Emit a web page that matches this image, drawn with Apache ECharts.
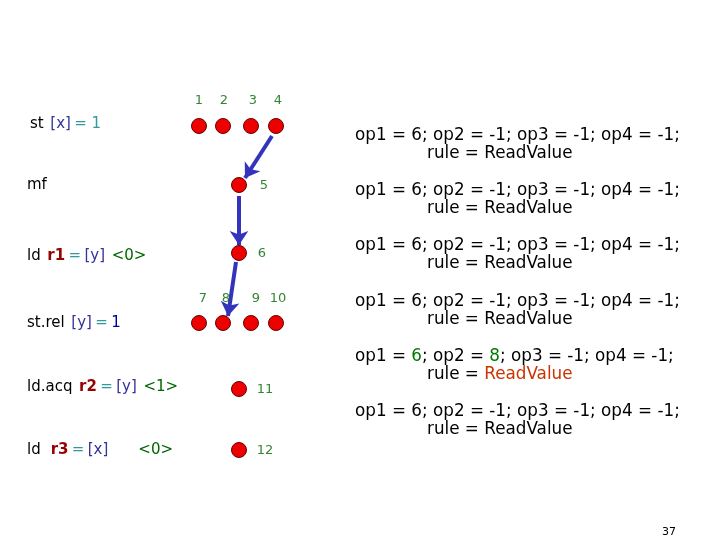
<!DOCTYPE html>
<html><head><meta charset="utf-8">
<script src="https://cdn.jsdelivr.net/npm/echarts@6/dist/echarts.min.js"></script>
<style>html,body{margin:0;background:#fff}#main{width:720px;height:540px}</style>
</head><body><div id="main"></div>
<script>
// node centres
var nodeX = [199, 223, 251, 276, 239, 239, 199, 223, 251, 276, 239, 239];
var nodeY = [126, 126, 126, 126, 185, 253, 323, 323, 323, 323, 389, 450];
var nodeNames = ['1','2','3','4','5','6','7','8','9','10','11','12'];
// label positions
var labelX = [199, 224, 253, 278, 264, 262, 203, 226, 256, 278, 265, 265];
var labelY = [101, 101, 101, 101, 186, 254, 299, 299, 299, 299, 390, 451];
// arrows: [x1,y1,x2,y2]
var arrows = [[272,136,245,178],[239,196,239,245],[236,262,228,316]];
var opLine = 'op1 = 6; op2 = -1; op3 = -1; op4 = -1;';
var opRowsY = [138, 193, 248, 304, 359, 414];

var myChart = echarts.init(document.getElementById('main'));
var ff = '"DejaVu Sans", sans-serif';

var nodes = [], labels = [];
for (var i = 0; i < nodeX.length; i++) {
	nodes.push([nodeX[i], nodeY[i]]);
	labels.push({value: [labelX[i], labelY[i]], name: nodeNames[i]});
}
var arrowData = arrows.map(function (a) { return {coords: [[a[0], a[1]], [a[2], a[3]]]}; });

var rich = {
	k: {fill: '#000', fontSize: 15, fontFamily: ff},
	b: {fill: '#333399', fontSize: 15, fontFamily: ff},
	t: {fill: '#339999', fontSize: 15, fontFamily: ff},
	r: {fill: '#990000', fontSize: 15, fontFamily: ff, fontWeight: 'bold'},
	g: {fill: '#006600', fontSize: 15, fontFamily: ff},
	d: {fill: '#000099', fontSize: 15, fontFamily: ff}
};
function lt(x, y, s) {
	return {type: 'text', left: x, top: y - 9, style: {text: s, rich: rich}};
}
var graphics = [
	lt(30, 126, '{k|st}  {b|[x]} {t|= 1}'),
	lt(27, 187, '{k|mf}'),
	lt(27, 258, '{k|ld}  {r|r1} {t|=} {b|[y]}  {g|<0>}'),
	lt(27, 325, '{k|st.rel}  {b|[y]} {t|=} {d|1}'),
	lt(27, 389, '{k|ld.acq}  {r|r2} {t|=} {b|[y]}  {g|<1>}'),
	lt(27, 452, '{k|ld}   {r|r3} {t|=} {b|[x]}         {g|<0>}'),
	{type: 'text', left: 662, top: 527, style: {text: '37', fontSize: 11, fill: '#000', fontFamily: ff}}
];
var opRich = {
	k: {fill: '#000', fontSize: 16.8, fontFamily: ff},
	g: {fill: '#007700', fontSize: 16.8, fontFamily: ff},
	o: {fill: '#cc3300', fontSize: 16.8, fontFamily: ff}
};
opRowsY.forEach(function (y, i) {
	var l1 = i == 4 ? '{k|op1 = }{g|6}{k|; op2 = }{g|8}{k|; op3 = -1; op4 = -1;}' : '{k|' + opLine + '}';
	var l2 = i == 4 ? '{k|rule = }{o|ReadValue}' : '{k|rule = ReadValue}';
	graphics.push({type: 'text', left: 355, top: y - 11, style: {text: l1, rich: opRich}});
	graphics.push({type: 'text', left: 427, top: y + 7, style: {text: l2, rich: opRich}});
});

option = {
	animation: false,
	grid: {left: 0, right: 0, top: 0, bottom: 0},
	xAxis: {type: 'value', min: 0, max: 720, show: false},
	yAxis: {type: 'value', min: 0, max: 540, inverse: true, show: false},
	graphic: graphics,
	series: [
		{
			type: 'lines', coordinateSystem: 'cartesian2d', data: arrowData,
			symbol: ['none', 'arrow'], symbolSize: 14,
			lineStyle: {color: '#3333bb', width: 4, opacity: 1}
		},
		{
			type: 'scatter', data: nodes, symbolSize: 15,
			itemStyle: {color: '#ee0000', borderColor: '#660000', borderWidth: 1, opacity: 1}
		},
		{
			type: 'scatter', data: labels, symbolSize: 0,
			label: {show: true, position: 'inside', formatter: '{b}', color: '#006600', fontSize: 13, fontFamily: ff}
		}
	]
};
myChart.setOption(option);
</script></body></html>
